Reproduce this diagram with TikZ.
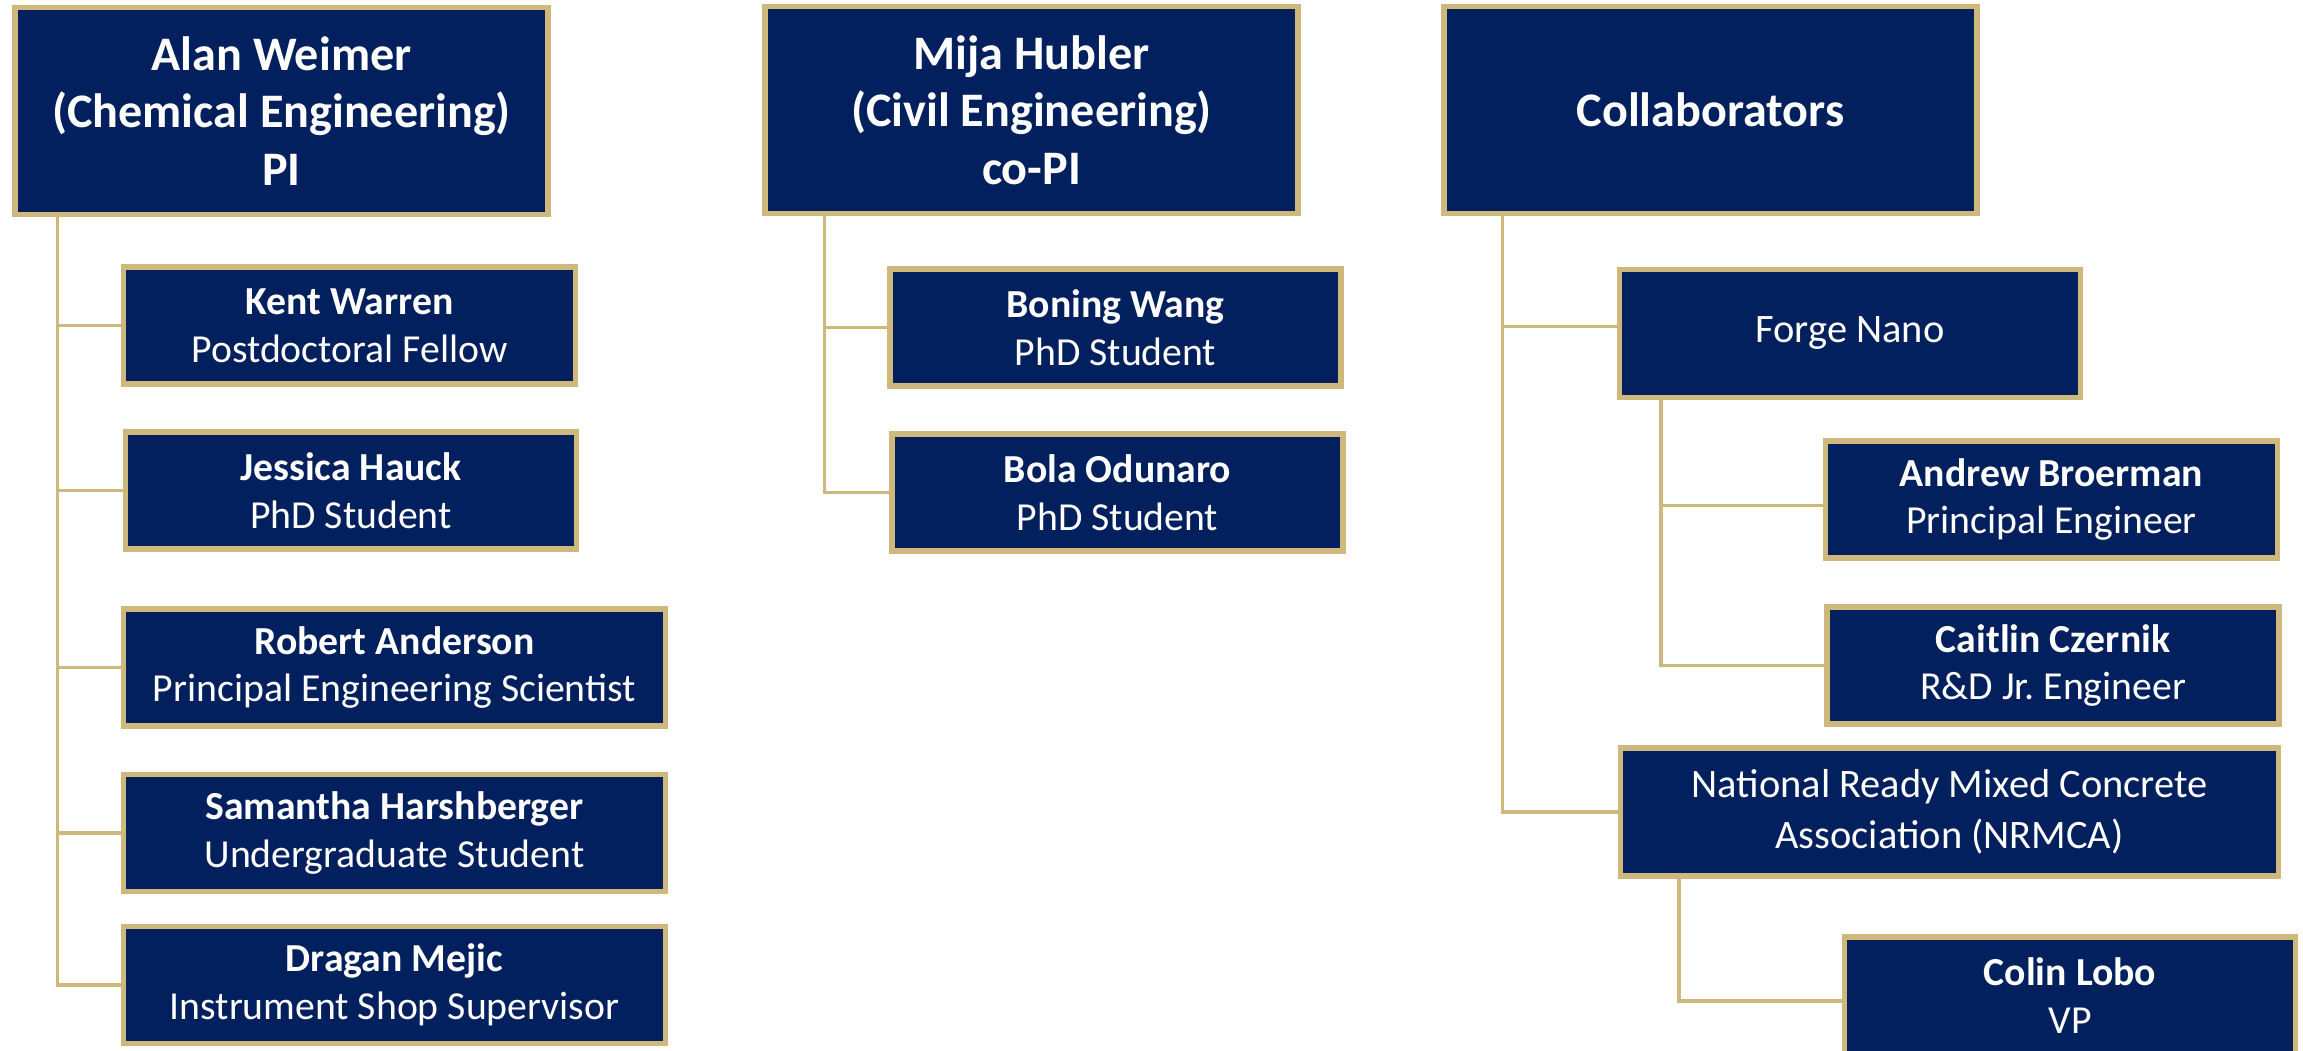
\documentclass[tikz,border=0pt]{standalone}
\usepackage{fontspec}
\setmainfont{Carlito}
\usetikzlibrary{positioning}
\definecolor{CUNavy}{HTML}{03205E}
\definecolor{CUGold}{HTML}{CFB87C}

\begin{document}
\begin{tikzpicture} [
			every node/.style={align=center,draw=CUGold,fill=CUNavy,text=white,line width=1.45pt,inner sep=0pt},
			head/.style={font=\fontsize{13.7}{16.3}\selectfont\bfseries,minimum width=53.3mm,minimum height=20.7mm},
			member/.style={font=\fontsize{11.3}{13.6}\selectfont,minimum height=11.7mm},
			org/.style={font=\fontsize{11.5}{14.4}\selectfont,minimum height=12.8mm},
			link/.style={draw=CUGold,line width=1.1pt}
		]
			\useasboundingbox (0,0) rectangle (23.03,-10.51);
			% PI
			\node at (2.815,-1.11) [head] (alan) {Alan Weimer \\ (Chemical Engineering) \\ PI};
			\node at (3.495,-3.255) [member,minimum width=45.2mm] (kent) {\textbf{Kent Warren} \\ Postdoctoral Fellow};
			\node at (3.51,-4.905) [member,minimum width=45.1mm] (jessica) {\textbf{Jessica Hauck} \\ PhD Student};
			\node at (3.945,-6.675) [member,minimum width=54.2mm] (robert) {\textbf{Robert Anderson} \\ Principal Engineering Scientist};
			\node at (3.945,-8.33) [member,minimum width=54.2mm] (samantha) {\textbf{Samantha Harshberger} \\ Undergraduate Student};
			\node at (3.945,-9.85) [member,minimum width=54.2mm] (dragan) {\textbf{Dragan Mejic} \\ Instrument Shop Supervisor};
			% co-PI
			\node at (10.315,-1.10) [head] (mija) {Mija Hubler \\ (Civil Engineering) \\ co-PI};
			\node at (11.155,-3.275) [member,minimum width=45.1mm] (boning) {\textbf{Boning Wang} \\ PhD Student};
			\node at (11.175,-4.925) [member,minimum width=45.1mm] (bola) {\textbf{Bola Odunaro} \\ PhD Student};
			% collaborators
			\node at (17.105,-1.10) [head] (collab) {Collaborators};
			\node at (18.50,-3.335) [org,minimum width=46.1mm] (forge) {Forge Nano};
			\node at (20.515,-4.995) [member,minimum width=45.2mm] (andrew) {\textbf{Andrew Broerman} \\ Principal Engineer};
			\node at (20.53,-6.655) [member,minimum width=45.2mm] (caitlin) {\textbf{Caitlin Czernik} \\ R\&D Jr.\ Engineer};
			\node at (19.495,-8.12) [org,minimum width=65.8mm] (nrmca) {National Ready Mixed Concrete \\ Association (NRMCA)};
			\node at (20.70,-9.955) [member,minimum width=45.1mm] (colin) {\textbf{Colin Lobo} \\ VP};
			\path[link] ([xshift=4.5mm]alan.south west) |- (kent.west);
			\path[link] ([xshift=4.5mm]alan.south west) |- (jessica.west);
			\path[link] ([xshift=4.5mm]alan.south west) |- (robert.west);
			\path[link] ([xshift=4.5mm]alan.south west) |- (samantha.west);
			\path[link] ([xshift=4.5mm]alan.south west) |- (dragan.west);
			\path[link] ([xshift=6.2mm]mija.south west) |- (boning.west);
			\path[link] ([xshift=6.2mm]mija.south west) |- (bola.west);
			\path[link] ([xshift=6.1mm]collab.south west) |- ([yshift=0.7mm]forge.west);
			\path[link] ([xshift=6.1mm]collab.south west) |- (nrmca.west);
			\path[link] ([xshift=4.4mm]forge.south west) |- ([yshift=-0.6mm]andrew.west);
			\path[link] ([xshift=4.4mm]forge.south west) |- (caitlin.west);
			\path[link] ([xshift=6.1mm]nrmca.south west) |- ([yshift=-0.55mm]colin.west);
		\end{tikzpicture}
\end{document}
